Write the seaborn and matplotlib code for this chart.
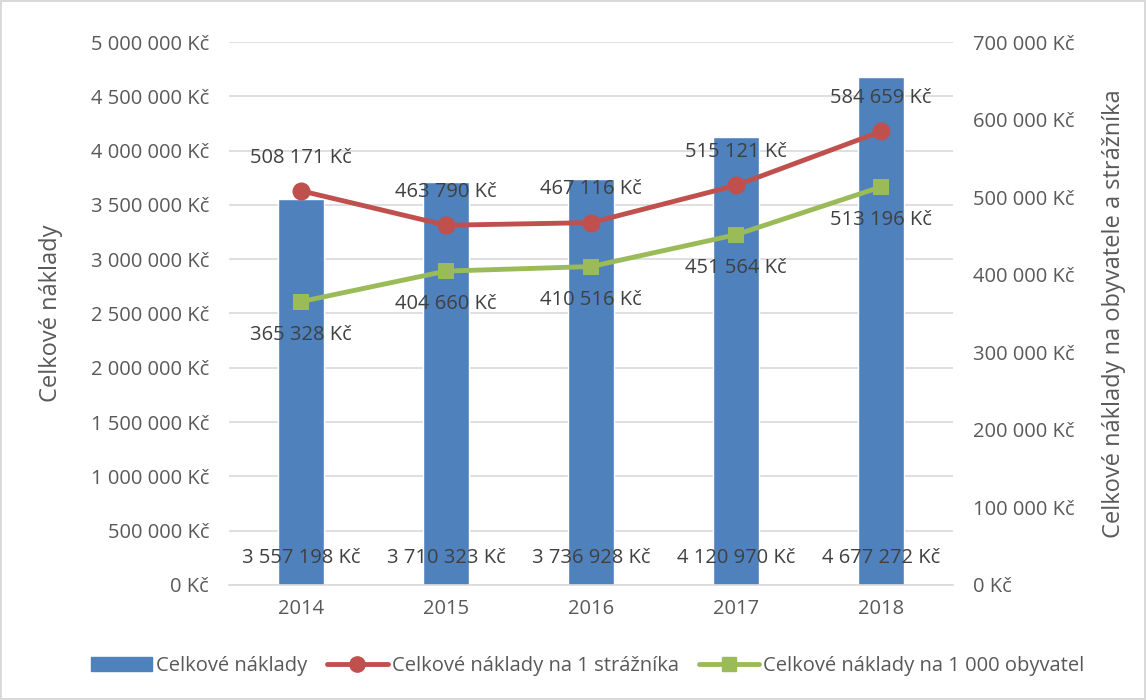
import numpy as np
import pandas as pd
import matplotlib
matplotlib.use("Agg")
import matplotlib.pyplot as plt
import seaborn as sns
from matplotlib.lines import Line2D
from matplotlib.patches import Patch

years = ["2014", "2015", "2016", "2017", "2018"]
total_costs = [3557198, 3710323, 3736928, 4120970, 4677272]
cost_per_guard = [508171, 463790, 467116, 515121, 584659]
cost_per_1000 = [365328, 404660, 410516, 451564, 513196]

BLUE = "#4F81BD"
RED = "#C0504D"
GREEN = "#9BBB59"
TEXT = "#595959"
LABEL = "#404040"
GRID = "#D9D9D9"


def kc(v):
    """ Format number with space thousands separator and Kč. """
    return f"{v:,.0f}".replace(",", " ") + " Kč"


def main():
    sns.set_style("white")
    plt.rcParams['font.family'] = ['Open Sans', 'DejaVu Sans']
    plt.rcParams['text.color'] = TEXT

    fig = plt.figure(figsize=(11.46, 7.0), dpi=100)
    fig.patch.set_edgecolor(GRID)
    fig.patch.set_linewidth(1.5)
    ax = fig.add_axes([0.1994, 0.1643, 0.6326, 0.7757])

    df = pd.DataFrame({"year": years, "total": total_costs})
    sns.barplot(data=df, x="year", y="total", color=BLUE, width=0.32,
                saturation=1, ax=ax, zorder=2)

    ax.set_ylim(0, 5000000)
    ax.set_yticks(np.arange(0, 5000001, 500000))
    ax.set_yticklabels([kc(v) for v in np.arange(0, 5000001, 500000)])
    ax.yaxis.grid(True, color=GRID, linewidth=1.2, zorder=0)
    ax.set_axisbelow(True)
    ax.set_xlabel("")
    ax.set_ylabel("Celkové náklady", fontsize=17, color=TEXT, labelpad=20)
    ax.tick_params(axis="both", length=0, labelsize=14.5, colors=TEXT, pad=10)
    ax.tick_params(axis="y", pad=14)
    for s in ["top", "right", "left"]:
        ax.spines[s].set_visible(False)
    ax.spines["bottom"].set_color(GRID)
    ax.spines["bottom"].set_linewidth(1.2)

    # bar value labels at the bottom of the bars
    for i, v in enumerate(total_costs):
        ax.text(i, 245000, kc(v), ha="center", va="center", fontsize=14.5, color=LABEL, zorder=5)

    ax2 = ax.twinx()
    x = np.arange(len(years))
    sns.lineplot(x=x, y=cost_per_guard, ax=ax2, color=RED, linewidth=3.5,
                 marker="o", markersize=13, markeredgewidth=0, sort=False, zorder=4)
    sns.lineplot(x=x, y=cost_per_1000, ax=ax2, color=GREEN, linewidth=3.5,
                 marker="s", markersize=12, markeredgewidth=0, sort=False, zorder=4)
    ax2.set_ylim(0, 700000)
    ax2.set_xlim(-0.5, len(years) - 0.5)
    ax.set_xlim(-0.5, len(years) - 0.5)
    ax2.set_yticks(np.arange(0, 700001, 100000))
    ax2.set_yticklabels([kc(v) for v in np.arange(0, 700001, 100000)])
    ax2.tick_params(axis="y", length=0, labelsize=14.5, colors=TEXT, pad=14)
    ax2.set_ylabel("Celkové náklady na obyvatele a strážníka", fontsize=17, color=TEXT, labelpad=20)
    for s in ["top", "right", "left", "bottom"]:
        ax2.spines[s].set_visible(False)

    for i, v in enumerate(cost_per_guard):
        ax2.text(i, v + 30000, kc(v), ha="center", va="bottom", fontsize=14.5, color=LABEL)
    for i, v in enumerate(cost_per_1000):
        ax2.text(i, v - 30000, kc(v), ha="center", va="top", fontsize=14.5, color=LABEL)

    handles = [
        Patch(facecolor=BLUE, edgecolor=BLUE),
        Line2D([0], [0], color=RED, linewidth=3.5, marker="o", markersize=11),
        Line2D([0], [0], color=GREEN, linewidth=3.5, marker="s", markersize=10),
    ]
    labels = ["Celkové náklady", "Celkové náklady na 1 strážníka", "Celkové náklady na 1 000 obyvatel"]
    fig.legend(handles, labels, loc="center", bbox_to_anchor=(0.513, 0.049), ncol=3,
               frameon=False, fontsize=14.5, handlelength=3.0, handletextpad=0.2,
               columnspacing=1.0, labelcolor=TEXT)

    fig.savefig("out.png", dpi=100)


if __name__ == "__main__":
    main()
